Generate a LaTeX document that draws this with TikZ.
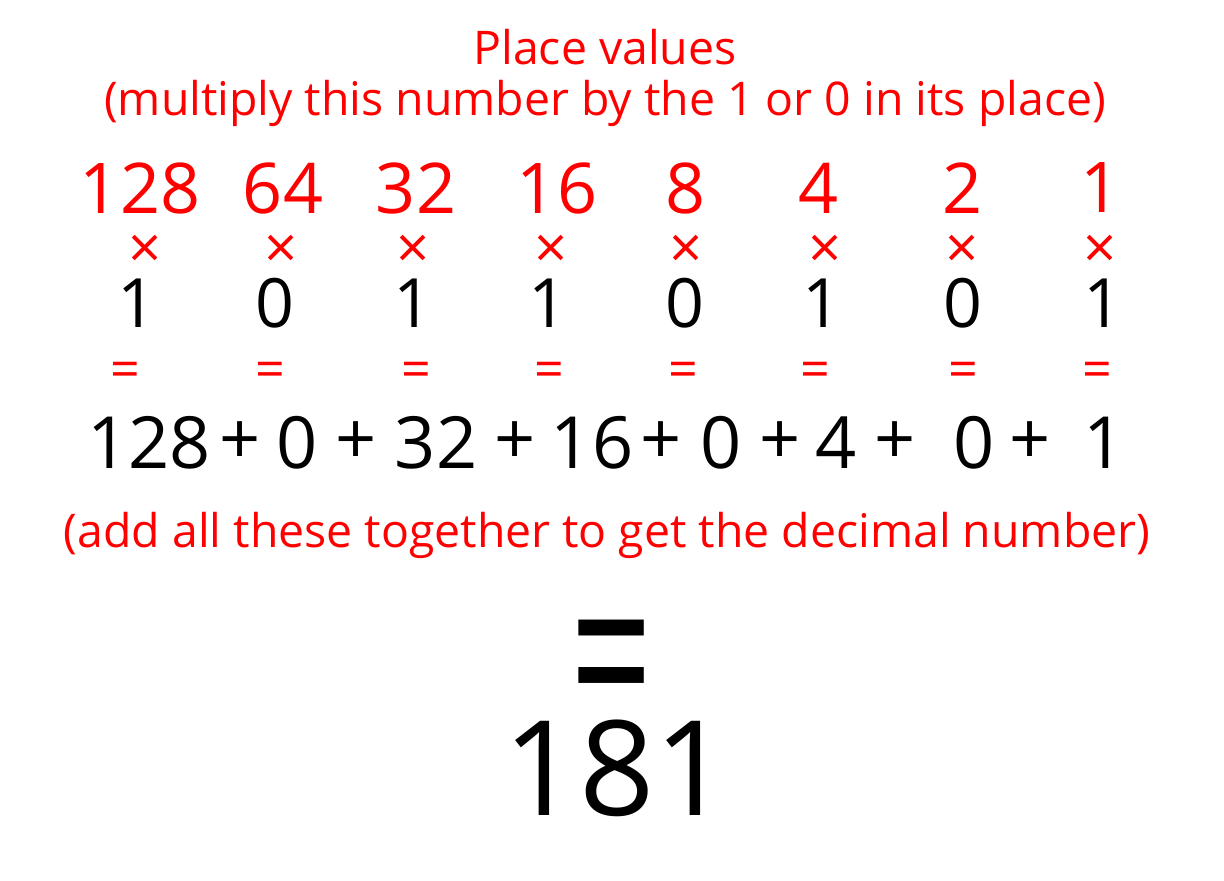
\documentclass[tikz,border=0pt]{standalone}
\usepackage{fontspec}
\setmainfont{Open Sans}
\definecolor{pvred}{RGB}{255,0,0}
\begin{document}
\begin{tikzpicture}[x=0.5pt,y=-0.5pt,
  redtxt/.style={text=pvred,inner sep=0pt,font=\fontsize{23.2}{26}\selectfont},
  pv/.style={text=pvred,inner sep=0pt,font=\fontsize{35}{40}\selectfont},
  times/.style={text=pvred,inner sep=0pt,font=\fontsize{29}{32}\selectfont},
  bit/.style={text=black,inner sep=0pt,font=\fontsize{34}{40}\selectfont},
  eqs/.style={text=pvred,inner sep=0pt,font=\fontsize{26}{30}\selectfont},
  sumt/.style={text=black,inner sep=0pt,font=\fontsize{36}{40}\selectfont},
  big/.style={text=black,inner sep=0pt,font=\fontsize{66}{72}\selectfont}]
\useasboundingbox (0,0) rectangle (1224,880);
\fill[white] (0,0) rectangle (1224,880);
\node[redtxt] (title) at (605,47) {Place values};
\node[redtxt] (sub) at (605,103) {(multiply this number by the 1 or 0 in its place)};
\foreach \x/\v [count=\i] in {140/128,283/64,416/32,557/16,685/8,818/4,962/2,1100/1}{
  \node[pv] (pv\i) at (\x,188) {\v};
}
\foreach \x [count=\i] in {145,281,413,551,686,825,962,1100}{
  \node[times] (t\i) at (\x,252) {×};
}
\foreach \x/\b [count=\i] in {137/1,275/0,413/1,548/1,685/0,822/1,963/0,1103/1}{
  \node[bit] (b\i) at (\x,303) {\b};
}
\foreach \x [count=\i] in {125,270,416,549,683,815,963,1097}{
  \node[eqs] (e\i) at (\x,375) {=};
}
\foreach \x/\s [count=\i] in {149/128,240/+,297/0,356/+,436/32,515/+,592/16,661/+,721/0,780/+,836/4,895/+,974/0,1030/+,1104/1}{
  \node[sumt] (s\i) at (\x,443) {\s};
}
\node[redtxt] (add) at (607,535) {(add all these together to get the decimal number)};
\node[text=black,inner sep=0pt,font=\fontsize{72}{80}\selectfont] (eqbig) at (612,678) {\scalebox{1.0}[1.65]{=}};
\node[big] (res) at (617,768) {181};
\end{tikzpicture}
\end{document}
